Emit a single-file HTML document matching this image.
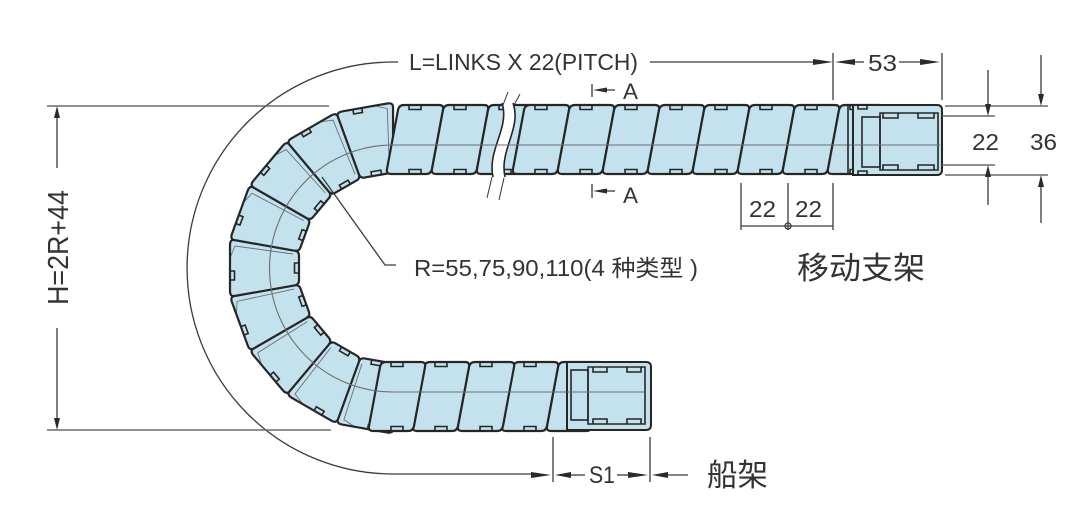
<!DOCTYPE html>
<html><head><meta charset="utf-8">
<style>
html,body{margin:0;padding:0;background:#fff;width:1089px;height:520px;overflow:hidden}
svg{display:block}
text{font-family:"Liberation Sans","Noto Sans CJK SC",sans-serif;fill:#333}
</style></head>
<body>
<svg width="1089" height="520" viewBox="0 0 1089 520" xmlns="http://www.w3.org/2000/svg">
<defs>
<g id="lk">
<path d="M-11,-35 L24,-35 Q29,-35 28,-30 L17,29 Q16,34 11,34 L-24,34 Q-29,34 -28,29 L-17,-30 Q-16,-35 -11,-35 Z" fill="#c4e2ee" stroke="#262626" stroke-width="2.2" stroke-linejoin="round"/>
<path d="M-6,-35 V-30.5 H6 V-35 M-6,34 V29.5 H6 V34" fill="none" stroke="#262626" stroke-width="1.6"/>
</g>
<g id="bk">
<path d="M-23,-35 L23,-35 Q28.7,-35 28,-30.5 L17.4,29.5 Q16.6,34 12.5,34 L-12.5,34 Q-16.6,34 -17.4,29.5 L-28,-30.5 Q-28.7,-35 -23,-35 Z" fill="#c4e2ee" stroke="#262626" stroke-width="2.2" stroke-linejoin="round"/>
<path d="M-12,-35 V-30.5 H-3 V-35 M-5,34 V29.5 H5 V34" fill="none" stroke="#262626" stroke-width="1.6"/>
<path d="M10,-35 L22,-30 L14,28" fill="none" stroke="#262626" stroke-width="0.9" opacity="0.6"/>
</g>
</defs>

<!-- bend background -->
<path d="M393,105 A163,163 0 0 0 393,431 L393,365 A97,97 0 0 1 393,171 Z" fill="#c4e2ee"/>

<!-- bend links -->
<use href="#bk" transform="translate(393,268) rotate(-170) translate(0,-128)"/>
<use href="#bk" transform="translate(393,268) rotate(-150) translate(0,-128)"/>
<use href="#bk" transform="translate(393,268) rotate(-130) translate(0,-128)"/>
<use href="#bk" transform="translate(393,268) rotate(-110) translate(0,-128)"/>
<use href="#bk" transform="translate(393,268) rotate(-90) translate(0,-128)"/>
<use href="#bk" transform="translate(393,268) rotate(-70) translate(0,-128)"/>
<use href="#bk" transform="translate(393,268) rotate(-50) translate(0,-128)"/>
<use href="#bk" transform="translate(393,268) rotate(-30) translate(0,-128)"/>
<use href="#bk" transform="translate(393,268) rotate(-10) translate(0,-128)"/>

<!-- top straight links -->
<use href="#lk" transform="translate(415,140)"/>
<use href="#lk" transform="translate(460,140)"/>
<use href="#lk" transform="translate(505,140)"/>
<use href="#lk" transform="translate(541,140)"/>
<use href="#lk" transform="translate(586,140)"/>
<use href="#lk" transform="translate(631,140)"/>
<use href="#lk" transform="translate(676,140)"/>
<use href="#lk" transform="translate(721,140)"/>
<use href="#lk" transform="translate(766,140)"/>
<use href="#lk" transform="translate(811,140)"/>
<use href="#lk" transform="translate(856,140)"/>

<!-- bottom straight links -->
<use href="#lk" transform="translate(575,396) rotate(180)"/>
<use href="#lk" transform="translate(530,396) rotate(180)"/>
<use href="#lk" transform="translate(486,396) rotate(180)"/>
<use href="#lk" transform="translate(441,396) rotate(180)"/>
<use href="#lk" transform="translate(397,396) rotate(180)"/>

<!-- break -->
<path d="M502,103 C510,128 487,150 493,177 L505,177 C499,150 522,128 513,103 Z" fill="#fff"/>
<path d="M502,103 C510,128 487,150 493,177 M513,103 C522,128 499,150 505,177" fill="none" stroke="#262626" stroke-width="1.6"/>
<g stroke="#333" stroke-width="1" fill="none">
<path d="M508,92 L503,105 M520,94 L514,105 M492,177 L487,198 M504,178 L499,200"/>
</g>

<!-- pitch lines -->
<g stroke="#6d6d6d" stroke-width="1.1" fill="none">
<path d="M393,145 H940"/>
<path d="M393,145 A123.5,123.5 0 0 0 393,392"/>
<path d="M393,392 H645"/>
</g>

<!-- top bracket -->
<path d="M853,105 H937 Q942,105 942,110 V170 Q942,175 937,175 H853 Z" fill="#c4e2ee" stroke="#262626" stroke-width="2"/>
<line x1="848" y1="105" x2="848" y2="175" stroke="#262626" stroke-width="1.6"/>
<g fill="none" stroke="#262626" stroke-width="1.6">
<path d="M858,105 V109 H867 V105 M858,175 V171 H867 V175"/>
<rect x="862" y="117" width="18" height="50"/>
<path d="M880,113 H938 V170 H880 Z"/>
<path d="M883,113 V118 H898 V113 M918,113 V118 H934 V113 M883,170 V165 H898 V170 M918,170 V165 H934 V170"/>
</g>
<line x1="853" y1="145" x2="940" y2="145" stroke="#6d6d6d" stroke-width="1.1"/>

<!-- bottom bracket -->
<path d="M567,362 H646 Q651,362 651,367 V425 Q651,430 646,430 H567 Z" fill="#c4e2ee" stroke="#262626" stroke-width="2"/>
<g fill="none" stroke="#262626" stroke-width="1.6">
<rect x="571" y="370" width="17" height="50"/>
<path d="M588,367 H645 V424 H588 Z"/>
<path d="M593,367 V372 H607 V367 M627,367 V372 H641 V367 M593,424 V419 H607 V424 M627,424 V419 H641 V424"/>
</g>
<line x1="567" y1="392" x2="645" y2="392" stroke="#6d6d6d" stroke-width="1.1"/>

<!-- dimension lines -->
<g stroke="#3a3a3a" stroke-width="1.3" fill="none">
<path d="M398,62 H393 A206,206 0 0 0 393,474 H533"/>
<line x1="650" y1="62" x2="815" y2="62"/>
<line x1="833" y1="53" x2="833" y2="100"/>
<line x1="942" y1="53" x2="942" y2="100"/>
<line x1="853" y1="62" x2="864" y2="62"/>
<line x1="899" y1="62" x2="922" y2="62"/>
<line x1="988" y1="70" x2="988" y2="106"/>
<line x1="988" y1="175" x2="988" y2="205"/>
<line x1="1041" y1="55" x2="1041" y2="96"/>
<line x1="1041" y1="185" x2="1041" y2="223"/>
<line x1="592" y1="84" x2="592" y2="97"/>
<line x1="605" y1="90" x2="615" y2="90"/>
<line x1="592" y1="184" x2="592" y2="198"/>
<line x1="605" y1="191" x2="615" y2="191"/>
<line x1="741" y1="183" x2="741" y2="230"/>
<line x1="788" y1="183" x2="788" y2="230"/>
<line x1="833" y1="183" x2="833" y2="230"/>
<line x1="741" y1="226" x2="833" y2="226"/>
<circle cx="788" cy="226" r="3"/>
<line x1="57" y1="116" x2="57" y2="168"/>
<line x1="57" y1="328" x2="57" y2="420"/>
<polyline points="322,177 385,265 396,265"/>
<line x1="553" y1="437" x2="553" y2="482"/>
<line x1="650" y1="437" x2="650" y2="482"/>
<line x1="569" y1="475" x2="585" y2="475"/>
<line x1="617" y1="475" x2="630" y2="475"/>
<line x1="666" y1="475" x2="688" y2="475"/>
</g>
<g stroke="#6a6a6a" stroke-width="1.5" fill="none">
<line x1="945" y1="106" x2="1048" y2="106"/>
<line x1="945" y1="175" x2="1048" y2="175"/>
<line x1="942" y1="116" x2="995" y2="116"/>
<line x1="942" y1="165" x2="995" y2="165"/>
<line x1="47" y1="106" x2="329" y2="106"/>
<line x1="47" y1="430" x2="331" y2="430"/>
</g>

<!-- arrowheads -->
<g fill="#2a2a2a">
<polygon points="833,62 813,59 813,65"/>
<polygon points="835,62 855,59 855,65"/>
<polygon points="940,62 920,59 920,65"/>
<polygon points="988,116 985,104 991,104"/>
<polygon points="988,165 985,177 991,177"/>
<polygon points="1041,106 1038,94 1044,94"/>
<polygon points="1041,175 1038,187 1044,187"/>
<polygon points="593,90 607,87.5 607,92.5"/>
<polygon points="593,191 607,188.5 607,193.5"/>
<polygon points="57,106 54,118 60,118"/>
<polygon points="57,430 54,418 60,418"/>
<polygon points="551,475 531,472 531,478"/>
<polygon points="555,475 571,472 571,478"/>
<polygon points="648,475 628,472 628,478"/>
<polygon points="652,475 668,472 668,478"/>
</g>

<!-- texts -->
<text x="409" y="70" font-size="23" textLength="229" lengthAdjust="spacingAndGlyphs">L=LINKS X 22(PITCH)</text>
<text x="623" y="99" font-size="22" textLength="15" lengthAdjust="spacingAndGlyphs">A</text>
<text x="623" y="203" font-size="22" textLength="15" lengthAdjust="spacingAndGlyphs">A</text>
<text x="868" y="71" font-size="23" textLength="29" lengthAdjust="spacingAndGlyphs">53</text>
<text x="972" y="150" font-size="23" textLength="27" lengthAdjust="spacingAndGlyphs">22</text>
<text x="1030" y="150" font-size="23" textLength="27" lengthAdjust="spacingAndGlyphs">36</text>
<text x="749" y="217" font-size="23" textLength="27" lengthAdjust="spacingAndGlyphs">22</text>
<text x="795" y="217" font-size="23" textLength="27" lengthAdjust="spacingAndGlyphs">22</text>
<text x="414" y="276" font-size="23" textLength="284" lengthAdjust="spacingAndGlyphs">R=55,75,90,110(4 种类型 )</text>
<text x="797" y="279" font-size="31" textLength="128" lengthAdjust="spacingAndGlyphs">移动支架</text>
<text x="589" y="483" font-size="24" textLength="26" lengthAdjust="spacingAndGlyphs">S1</text>
<text x="707" y="486" font-size="31" textLength="61" lengthAdjust="spacingAndGlyphs">船架</text>
<text transform="translate(68,305) rotate(-90)" x="0" y="0" font-size="29" textLength="115" lengthAdjust="spacingAndGlyphs">H=2R+44</text>
</svg>
</body></html>
